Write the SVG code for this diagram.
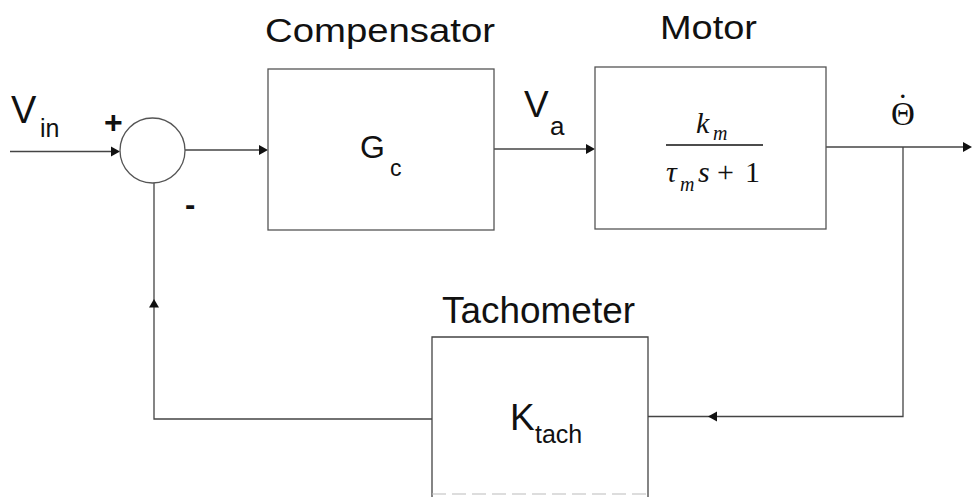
<svg xmlns="http://www.w3.org/2000/svg" width="972" height="497" viewBox="0 0 972 497">
<defs>
<style>
.box{fill:#fff;stroke:#555;stroke-width:1.3}
.ln{fill:none;stroke:#444;stroke-width:1.3}
.t{font-family:"Liberation Sans",Arial,sans-serif;fill:#111}
.m{font-family:"Liberation Serif","Times New Roman",serif;fill:#111}
.ah{fill:#111}
</style>
</defs>
<rect width="972" height="497" fill="#fff"/>
<g id="labels">
<text class="t" x="265" y="42" font-size="34" textLength="230" lengthAdjust="spacingAndGlyphs">Compensator</text>
<text class="t" x="660" y="39" font-size="34" textLength="97" lengthAdjust="spacingAndGlyphs">Motor</text>
<text class="t" x="442" y="323" font-size="37" textLength="193" lengthAdjust="spacingAndGlyphs">Tachometer</text>
<text class="t" x="11" y="123" font-size="38">V</text>
<text class="t" x="40" y="137" font-size="25">in</text>
<text class="t" x="104" y="133" font-size="32" font-weight="bold">+</text>
<text class="t" x="185" y="215" font-size="31" font-weight="bold">-</text>
<text class="t" x="524" y="117" font-size="37">V</text>
<text class="t" x="550" y="135" font-size="26">a</text>
<text class="m" x="891" y="125" font-size="33">Θ<tspan dx="-17.5" dy="-8">˙</tspan></text>
</g>
<g id="connectors">
<line class="ln" x1="10" y1="151.5" x2="112" y2="151.5"/>
<polygon class="ah" points="120,151.5 111,146.5 111,156.5"/>
<line class="ln" x1="185" y1="150" x2="260" y2="150"/>
<polygon class="ah" points="268,150 259,145 259,155"/>
<line class="ln" x1="494" y1="149" x2="587" y2="149"/>
<polygon class="ah" points="595,149 586,144 586,154"/>
<line class="ln" x1="826" y1="147" x2="963" y2="147"/>
<polygon class="ah" points="972,147 963,142 963,152"/>
<polyline class="ln" points="903,147 903,416.5 648,416.5"/>
<polygon class="ah" points="708,416.5 717,411.5 717,421.5"/>
<polyline class="ln" points="432,419 154,419 154,183"/>
<polygon class="ah" points="154,299 149,307.5 159,307.5"/>
</g>
<g id="sum">
<circle cx="152.5" cy="150.5" r="32.5" fill="#fff" stroke="#555" stroke-width="1.3"/>
</g>
<g id="compensator">
<rect class="box" x="268" y="69" width="226" height="161"/>
<text class="t" x="360" y="158" font-size="32">G</text>
<text class="t" x="390" y="176" font-size="23">c</text>
</g>
<g id="motor">
<rect class="box" x="595" y="67" width="231" height="162"/>
<text class="m" x="696" y="133" font-size="30" font-style="italic">k</text>
<text class="m" x="713" y="140" font-size="20" font-style="italic">m</text>
<line x1="666" y1="145" x2="763" y2="145" stroke="#111" stroke-width="1.6"/>
<text class="m" x="666" y="182" font-size="30" font-style="italic">τ</text>
<text class="m" x="680" y="191" font-size="20" font-style="italic">m</text>
<text class="m" x="698" y="182" font-size="30" font-style="italic">s</text>
<text class="m" x="717" y="182" font-size="30">+</text>
<text class="m" x="745" y="182" font-size="30">1</text>
</g>
<g id="tachometer">
<path class="ln" d="M432,497 L432,337 L648,337 L648,497"/>
<line x1="432" y1="494" x2="648" y2="494" stroke="#bbb" stroke-width="1" stroke-dasharray="14,6"/>
<text class="t" x="510" y="430" font-size="37">K</text>
<text class="t" x="535" y="443" font-size="25">tach</text>
</g>
</svg>
